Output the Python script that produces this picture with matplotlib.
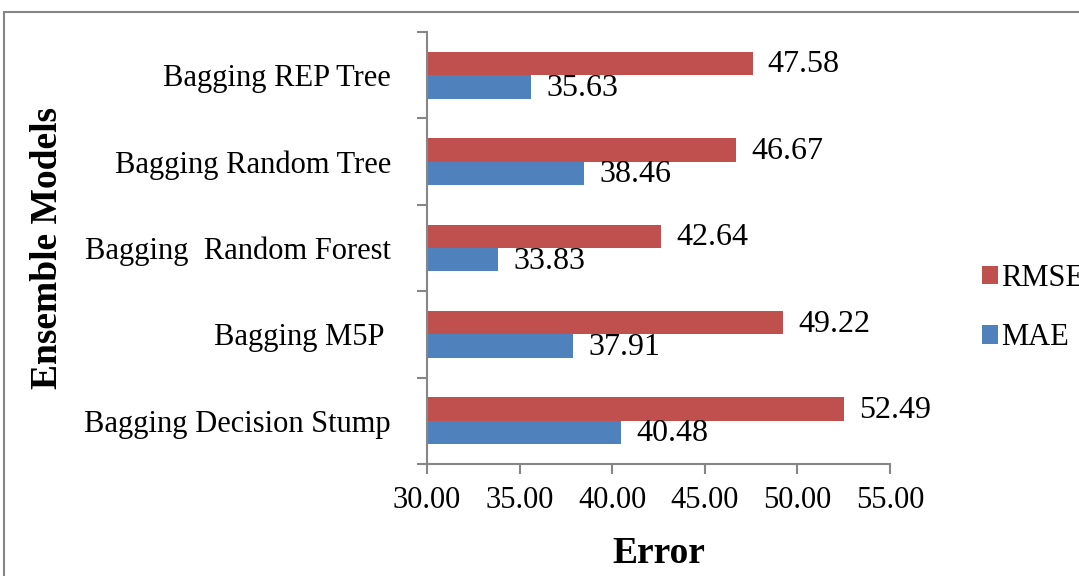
import matplotlib
matplotlib.use("Agg")
import matplotlib.pyplot as plt
import numpy as np
from matplotlib.patches import Rectangle

models = ["Bagging Decision Stump", "Bagging M5P ", "Bagging  Random Forest",
          "Bagging Random Tree", "Bagging REP Tree"]
rmse = [52.49, 49.22, 42.64, 46.67, 47.58]
mae = [40.48, 37.91, 33.83, 38.46, 35.63]
xticks = [30, 35, 40, 45, 50, 55]

red = "#C0504D"
blue = "#4F81BD"
grey = "#868686"

plt.rcParams['font.family'] = ['Liberation Serif', 'DejaVu Serif']

fig = plt.figure(figsize=(10.79, 5.76), dpi=100)
ax = fig.add_axes([427 / 1079, 1 - 464 / 576, (890 - 427) / 1079, (464 - 32) / 576])

y = np.arange(len(models))
h = 0.27
b_rmse = ax.barh(y + h / 2, np.array(rmse) - 30, height=h, left=30, color=red, label="RMSE")
b_mae = ax.barh(y - h / 2, np.array(mae) - 30, height=h, left=30, color=blue, label="MAE")

for bars, vals in ((b_rmse, rmse), (b_mae, mae)):
    for bar, v in zip(bars, vals):
        ax.annotate(f"{v:.2f}", (v, bar.get_y() + bar.get_height() / 2),
                    xytext=(11, -1), textcoords="offset points",
                    ha="left", va="center", fontsize=23)

ax.set_xlim(30, 55)
ax.set_ylim(-0.5, len(models) - 0.5)
ax.set_xticks(xticks)
ax.set_xticklabels([f"{t:.2f}" for t in xticks], fontsize=22)
ax.set_yticks(y)
ax.set_yticklabels(models, fontsize=22)
ax.set_yticks(np.arange(-0.5, len(models)), minor=True)
ax.tick_params(axis="y", which="major", length=0, pad=26)
ax.tick_params(axis="y", which="minor", length=7, color=grey, width=1.5)
ax.tick_params(axis="x", length=7, color=grey, width=1.5, pad=9)

for side in ("top", "right"):
    ax.spines[side].set_visible(False)
for side in ("left", "bottom"):
    ax.spines[side].set_color(grey)
    ax.spines[side].set_linewidth(1.5)

ax.set_xlabel("Error", fontsize=27, fontweight="bold", labelpad=15)
ax.set_ylabel("Ensemble Models", fontsize=27, fontweight="bold", labelpad=14)

handles = [b_rmse, b_mae]
fig.legend(handles, ["RMSE", "MAE"], loc="center left",
           bbox_to_anchor=(954 / 1079, 1 - 308 / 576), frameon=False,
           fontsize=22, handlelength=0.55, handleheight=0.55,
           handletextpad=0.1, labelspacing=1.0)

# outer frame, runs off the right and bottom edges
fig.patches.append(Rectangle((4 / 1079, -0.1), 1.2, 1.1 - 12 / 576,
                             transform=fig.transFigure, fill=False,
                             edgecolor=grey, linewidth=1.5))

fig.savefig("out.png", dpi=100)
